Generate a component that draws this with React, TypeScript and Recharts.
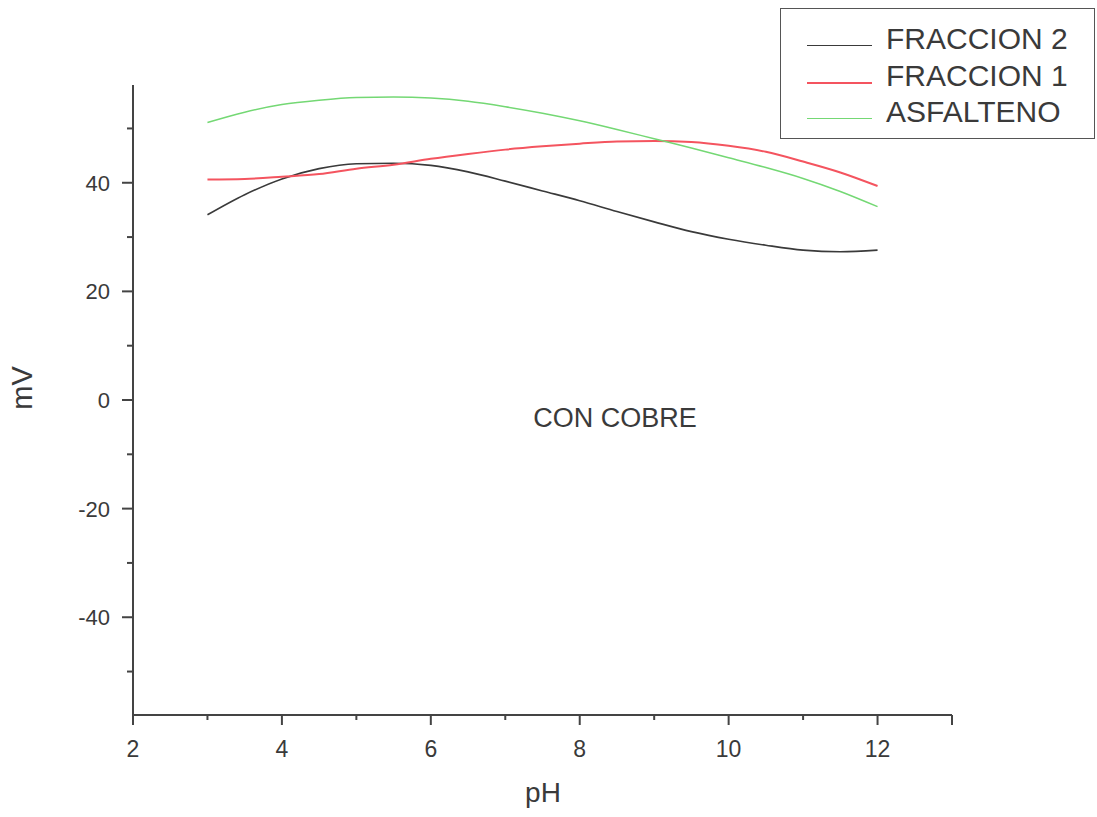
import React from "react";
import { LineChart, Line, XAxis, YAxis, Legend } from "recharts";

const pHValues = [3, 3.5, 4, 4.5, 5, 5.5, 6, 6.5, 7, 7.5, 8, 8.5, 9, 9.5, 10, 10.5, 11, 11.5, 12];
const fraccion2 = [34.1, 37.8, 40.7, 42.6, 43.5, 43.6, 43.2, 42.0, 40.3, 38.5, 36.7, 34.7, 32.8, 31.0, 29.6, 28.5, 27.6, 27.3, 27.6];
const fraccion1 = [40.6, 40.7, 41.1, 41.6, 42.6, 43.3, 44.4, 45.3, 46.1, 46.7, 47.2, 47.6, 47.7, 47.5, 46.8, 45.7, 43.9, 41.9, 39.4];
const asfalteno = [51.1, 53.0, 54.4, 55.2, 55.7, 55.8, 55.6, 55.0, 54.0, 52.8, 51.4, 49.8, 48.1, 46.4, 44.6, 42.8, 40.8, 38.4, 35.6];

const xTicks = [2, 3, 4, 5, 6, 7, 8, 9, 10, 11, 12, 13];
const xLabeled = [2, 4, 6, 8, 10, 12];
const yTicks = [-50, -40, -30, -20, -10, 0, 10, 20, 30, 40, 50];
const yLabeled = [-40, -20, 0, 20, 40];

const seriesNames = ["FRACCION 2", "FRACCION 1", "ASFALTENO"];
const seriesColors = ["#3a3a3a", "#f4545f", "#74d874"];

const data = pHValues.map((p, i) => ({
  pH: p,
  f2: fraccion2[i],
  f1: fraccion1[i],
  as: asfalteno[i],
}));

const FONT = '"Liberation Sans", Arial, sans-serif';
const AXIS_COLOR = "#444";
const TEXT_COLOR = "#3a3a3a";

const XTick = (props: any) => {
  const { x, y, payload } = props;
  const v = payload.value;
  const major = v % 2 === 0 || v === 13;
  return (
    <g>
      <line x1={x} x2={x} y1={y} y2={y + (major ? 10 : 5)} stroke={AXIS_COLOR} strokeWidth={2} />
      {xLabeled.includes(v) && (
        <text x={x} y={y + 42} textAnchor="middle" fontSize={23} fontFamily={FONT} fill={TEXT_COLOR}>
          {v}
        </text>
      )}
    </g>
  );
};

const YTick = (props: any) => {
  const { x, y, payload } = props;
  const v = payload.value;
  const major = v % 20 === 0;
  return (
    <g>
      <line x1={x - (major ? 11 : 6)} x2={x} y1={y} y2={y} stroke={AXIS_COLOR} strokeWidth={2} />
      {yLabeled.includes(v) && (
        <text x={x - 23} y={y + 8} textAnchor="end" fontSize={22} fontFamily={FONT} fill={TEXT_COLOR}>
          {v}
        </text>
      )}
    </g>
  );
};

const LegendBox = () => (
  <div
    style={{
      position: "relative",
      width: 315,
      height: 131,
      boxSizing: "border-box",
      border: "1.5px solid #555",
      background: "#fff",
      fontFamily: FONT,
    }}
  >
    {seriesNames.map((name, i) => (
      <React.Fragment key={name}>
        <div
          style={{
            position: "absolute",
            left: 26,
            top: 36 + i * 36.5,
            width: 65,
            height: 0,
            borderTop: `${i === 1 ? 2 : 1.5}px solid ${seriesColors[i]}`,
          }}
        />
        <div
          style={{
            position: "absolute",
            left: 105,
            top: 30 + i * 36.5,
            transform: "translateY(-50%)",
            fontSize: 30,
            lineHeight: 1,
            color: TEXT_COLOR,
            whiteSpace: "nowrap",
          }}
        >
          {name}
        </div>
      </React.Fragment>
    ))}
  </div>
);

export default function App() {
  return (
    <div style={{ position: "absolute", left: 0, top: 0, width: 1097, height: 817, background: "#fff" }}>
      <LineChart width={1097} height={817} data={data} margin={{ top: 85, right: 145, bottom: 0, left: 0 }}>
        <XAxis
          dataKey="pH"
          type="number"
          domain={[2, 13]}
          ticks={xTicks}
          interval={0}
          height={102}
          tickSize={0}
          tickMargin={0}
          tickLine={false}
          axisLine={{ stroke: AXIS_COLOR, strokeWidth: 2 }}
          tick={<XTick />}
          allowDataOverflow
        />
        <YAxis
          type="number"
          domain={[-58, 58]}
          ticks={yTicks}
          interval={0}
          width={133}
          tickSize={0}
          tickMargin={0}
          tickLine={false}
          axisLine={{ stroke: AXIS_COLOR, strokeWidth: 2 }}
          tick={<YTick />}
          allowDataOverflow
        />
        <Legend
          layout="horizontal"
          verticalAlign="middle"
          align="center"
          content={<LegendBox />}
          wrapperStyle={{ left: 780, top: 8, width: 315, height: 131 }}
        />
        <Line dataKey="f2" name={seriesNames[0]} type="monotone" stroke={seriesColors[0]} strokeWidth={1.6} dot={false} isAnimationActive={false} />
        <Line dataKey="f1" name={seriesNames[1]} type="monotone" stroke={seriesColors[1]} strokeWidth={2} dot={false} isAnimationActive={false} />
        <Line dataKey="as" name={seriesNames[2]} type="monotone" stroke={seriesColors[2]} strokeWidth={1.5} dot={false} isAnimationActive={false} />
      </LineChart>
      <div
        style={{
          position: "absolute",
          left: 22,
          top: 388,
          transform: "translate(-50%, -50%) rotate(-90deg)",
          fontFamily: FONT,
          fontSize: 29,
          lineHeight: 1,
          color: TEXT_COLOR,
          whiteSpace: "nowrap",
        }}
      >
        mV
      </div>
      <div
        style={{
          position: "absolute",
          left: 543,
          top: 793,
          transform: "translate(-50%, -50%)",
          fontFamily: FONT,
          fontSize: 28,
          lineHeight: 1,
          color: TEXT_COLOR,
          whiteSpace: "nowrap",
        }}
      >
        pH
      </div>
      <div
        style={{
          position: "absolute",
          left: 615,
          top: 418,
          transform: "translate(-50%, -50%)",
          fontFamily: FONT,
          fontSize: 27,
          lineHeight: 1,
          color: TEXT_COLOR,
          whiteSpace: "nowrap",
        }}
      >
        CON COBRE
      </div>
    </div>
  );
}
